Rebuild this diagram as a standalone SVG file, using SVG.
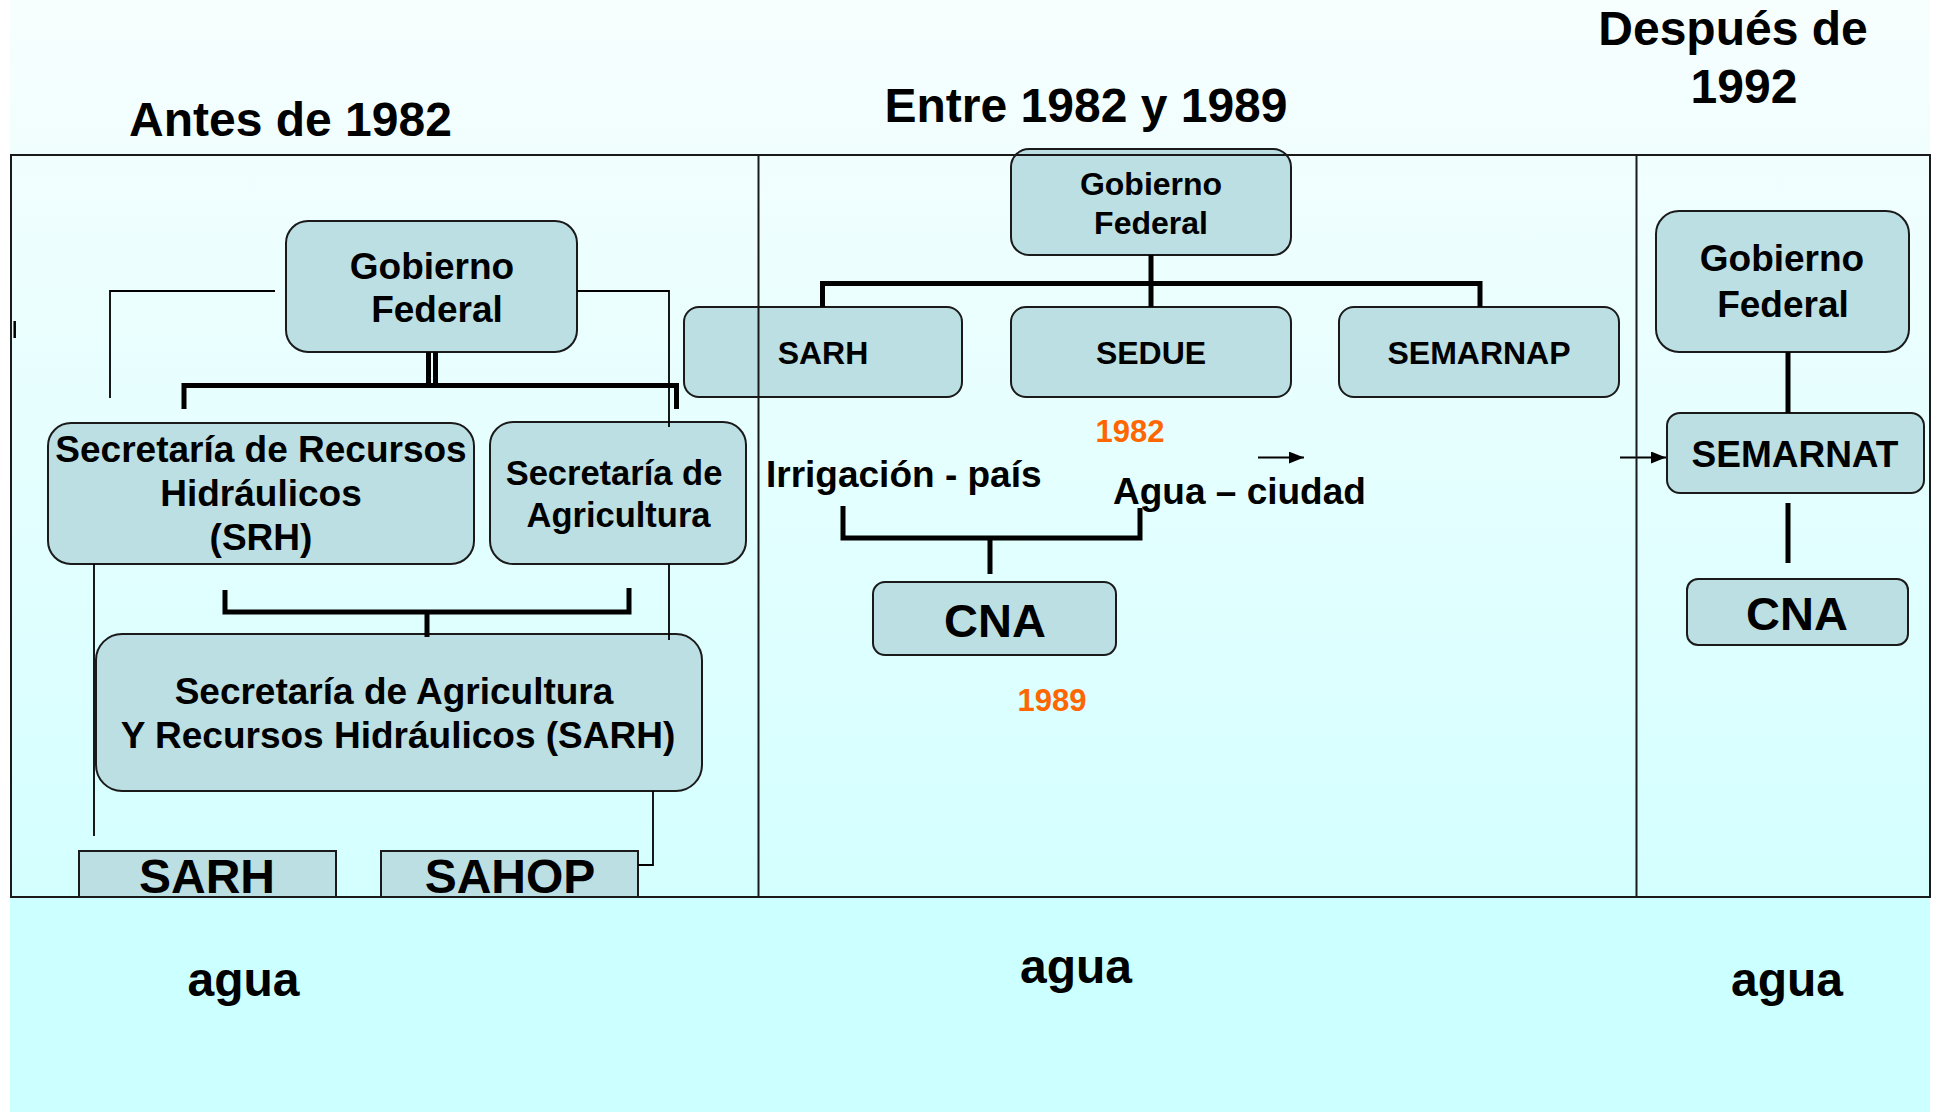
<svg xmlns="http://www.w3.org/2000/svg" width="1934" height="1112" viewBox="0 0 1934 1112">
<defs>
<linearGradient id="bg" x1="0" y1="0" x2="0" y2="1">
<stop offset="0" stop-color="#F7FEFE"/>
<stop offset="1" stop-color="#D4FFFF"/>
</linearGradient>
<marker id="arr" markerUnits="userSpaceOnUse" markerWidth="15" markerHeight="12" refX="15" refY="6" orient="auto"><path d="M0,0 L15,6 L0,12 z" fill="#000"/></marker>
</defs>
<style>
.box{fill:#BBDFE2;stroke:#1a1a1a;stroke-width:2}
.t{font-family:"Liberation Sans",Arial,sans-serif;font-weight:bold;fill:#000;text-anchor:middle}
.s{text-anchor:start}
.thin{fill:none;stroke:#000;stroke-width:1.8}
.thick{fill:none;stroke:#000;stroke-width:5}
.frame{fill:none;stroke:#1a1a1a;stroke-width:2}
.yr{fill:#FF6600}
</style>
<rect x="0" y="0" width="1934" height="1112" fill="#fff"/>
<rect x="10" y="0" width="1920" height="897" fill="url(#bg)"/>
<rect x="10" y="897" width="1920" height="215" fill="#CCFFFF"/>

<g id="titles">
<text class="t s" x="129" y="136" font-size="48">Antes de 1982</text>
<text class="t" x="1086" y="122" font-size="48">Entre 1982 y 1989</text>
<text class="t" x="1733" y="45" font-size="48">Después de</text>
<text class="t" x="1744" y="103" font-size="48">1992</text>
</g>

<g id="gf-antes">
<rect class="box" x="286" y="221" width="291" height="131" rx="22"/>
<text class="t" x="432" y="279" font-size="37">Gobierno</text>
<text class="t" x="437" y="322" font-size="37">Federal</text>
</g>
<g id="srh">
<rect class="box" x="48" y="423" width="426" height="141" rx="23"/>
<text class="t" x="261" y="462" font-size="37">Secretaría de Recursos</text>
<text class="t" x="261" y="506" font-size="37">Hidráulicos</text>
<text class="t" x="261" y="550" font-size="37">(SRH)</text>
</g>
<g id="sec-agricultura">
<rect class="box" x="490" y="422" width="256" height="142" rx="23"/>
<text class="t" x="614" y="485" font-size="34.5">Secretaría de</text>
<text class="t" x="618.5" y="527" font-size="34.5">Agricultura</text>
</g>
<g id="sarh-big">
<rect class="box" x="96" y="634" width="606" height="157" rx="26"/>
<text class="t" x="394" y="704" font-size="37">Secretaría de Agricultura</text>
<text class="t" x="398" y="748" font-size="37">Y Recursos Hidráulicos (SARH)</text>
</g>
<g id="sarh-small">
<rect class="box" x="79" y="851" width="257" height="46"/>
<text class="t" x="207" y="893" font-size="48">SARH</text>
</g>
<g id="sahop">
<rect class="box" x="381" y="851" width="257" height="46"/>
<text class="t" x="510" y="893" font-size="48">SAHOP</text>
</g>

<g id="gf-entre">
<rect class="box" x="1011" y="149" width="280" height="106" rx="18"/>
<text class="t" x="1151" y="195" font-size="32">Gobierno</text>
<text class="t" x="1151" y="234" font-size="32">Federal</text>
</g>
<g id="sarh-mid">
<rect class="box" x="684" y="307" width="278" height="90" rx="15"/>
<text class="t" x="823" y="364" font-size="32">SARH</text>
</g>
<g id="sedue">
<rect class="box" x="1011" y="307" width="280" height="90" rx="15"/>
<text class="t" x="1151" y="364" font-size="32">SEDUE</text>
</g>
<g id="semarnap">
<rect class="box" x="1339" y="307" width="280" height="90" rx="15"/>
<text class="t" x="1479" y="364" font-size="32">SEMARNAP</text>
</g>
<g id="cna-mid">
<rect class="box" x="873" y="582" width="243" height="73" rx="12"/>
<text class="t" x="995" y="637" font-size="47">CNA</text>
</g>
<g id="labels-mid">
<text class="t yr" x="1130" y="442" font-size="31">1982</text>
<text class="t yr" x="1052" y="711" font-size="31">1989</text>
<text class="t s" x="766" y="487" font-size="37">Irrigación - país</text>
<text class="t s" x="1113" y="504" font-size="37">Agua – ciudad</text>
</g>

<g id="gf-despues">
<rect class="box" x="1656" y="211" width="253" height="141" rx="23"/>
<text class="t" x="1782" y="271" font-size="37">Gobierno</text>
<text class="t" x="1783" y="317" font-size="37">Federal</text>
</g>
<g id="semarnat">
<rect class="box" x="1667" y="413" width="257" height="80" rx="13"/>
<text class="t" x="1795" y="467" font-size="37">SEMARNAT</text>
</g>
<g id="cna-right">
<rect class="box" x="1687" y="579" width="221" height="66" rx="11"/>
<text class="t" x="1797" y="630" font-size="47">CNA</text>
</g>

<g id="agua">
<text class="t" x="243.5" y="996" font-size="48">agua</text>
<text class="t" x="1076" y="983" font-size="48">agua</text>
<text class="t" x="1787" y="996" font-size="48">agua</text>
</g>

<g id="connectors">
<path class="thin" d="M275,291 H110 V398"/>
<path class="thin" d="M577,291 H669 V427"/>
<path class="thin" d="M94,564 V836"/>
<path class="thin" d="M669,564 V640"/>
<path class="thin" d="M653,791 V865 H638"/>
<line class="thick" x1="428.5" y1="352" x2="428.5" y2="386"/>
<line class="thick" x1="435.5" y1="352" x2="435.5" y2="386"/>
<path class="thick" d="M184,409 V385.5 H676.5 V409"/>
<path class="thick" d="M225,590 V612 H629 V588"/>
<line class="thick" x1="427" y1="612" x2="427" y2="637"/>
<line class="thick" x1="1151" y1="255" x2="1151" y2="307"/>
<path class="thick" d="M822.5,307 V283.5 H1480 V307"/>
<path class="thick" d="M843,506 V538 H1140 V508"/>
<line class="thick" x1="990" y1="538" x2="990" y2="574"/>
<line class="thick" x1="1788" y1="352" x2="1788" y2="413"/>
<line class="thick" x1="1788" y1="503" x2="1788" y2="563"/>
<line x1="1258" y1="457.6" x2="1304" y2="457.6" stroke="#000" stroke-width="2" marker-end="url(#arr)"/>
<line x1="1620" y1="457.5" x2="1666" y2="457.5" stroke="#000" stroke-width="2" marker-end="url(#arr)"/>
</g>

<g id="frame">
<rect class="frame" x="11" y="155" width="1919" height="742"/>
<line class="frame" x1="758.5" y1="155" x2="758.5" y2="897"/>
<line class="frame" x1="1636.5" y1="155" x2="1636.5" y2="897"/>
<line x1="14.7" y1="321" x2="14.7" y2="338" stroke="#000" stroke-width="2.5"/>
</g>
</svg>
